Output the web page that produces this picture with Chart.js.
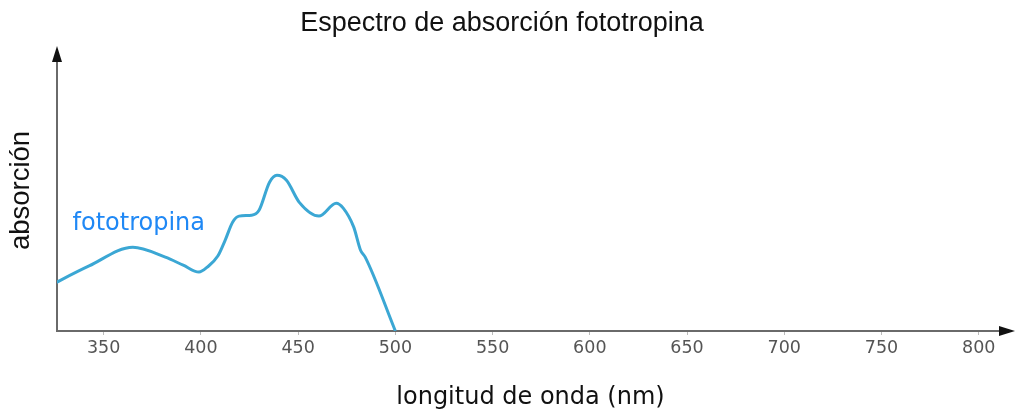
<!DOCTYPE html>
<html>
<head>
<meta charset="utf-8">
<script src="https://cdn.jsdelivr.net/npm/chart.js@4/dist/chart.umd.min.js"></script>
<style>
  html, body { margin: 0; padding: 0; background: #fff; }
  #wrap { width: 1016px; height: 414px; }
</style>
</head>
<body>
<div id="wrap"><canvas id="chart"></canvas></div>
<script>
// longitud de onda (nm) y absorción (unidades relativas)
const wavelengths = [320, 342.5, 365, 381.7, 390.9, 399, 403.3, 408.7, 412.5, 416.3, 419.6, 426.1, 429.9, 435.3, 439.1, 444, 450.6, 460.7, 469.6, 473.2, 478.6, 482.1, 484.5, 500];
const absorption  = [0.156, 0.236, 0.304, 0.268, 0.239, 0.214, 0.232, 0.272, 0.330, 0.395, 0.417, 0.420, 0.438, 0.540, 0.565, 0.547, 0.467, 0.417, 0.464, 0.446, 0.377, 0.293, 0.268, 0.0];
const xTicks = [350, 400, 450, 500, 550, 600, 650, 700, 750, 800];
const seriesLabel = "fototropina";

const decorations = {
  id: "decorations",
  afterDraw(chart) {
    const { ctx, chartArea, scales } = chart;
    ctx.save();
    ctx.fillStyle = "#111";
    // flecha eje y
    ctx.beginPath();
    ctx.moveTo(chartArea.left, chartArea.top - 4);
    ctx.lineTo(chartArea.left - 5, chartArea.top + 12);
    ctx.lineTo(chartArea.left + 5, chartArea.top + 12);
    ctx.closePath();
    ctx.fill();
    // flecha eje x
    ctx.beginPath();
    ctx.moveTo(chartArea.right + 11, chartArea.bottom);
    ctx.lineTo(chartArea.right - 5, chartArea.bottom - 5);
    ctx.lineTo(chartArea.right - 5, chartArea.bottom + 5);
    ctx.closePath();
    ctx.fill();
    // etiqueta de la serie
    ctx.fillStyle = "#1f88f5";
    ctx.font = "24px 'DejaVu Sans'";
    ctx.textBaseline = "alphabetic";
    ctx.fillText(seriesLabel, scales.x.getPixelForValue(334), scales.y.getPixelForValue(0.365));
    ctx.restore();
  }
};

new Chart(document.getElementById("chart"), {
  type: "line",
  data: {
    datasets: [{
      label: seriesLabel,
      data: wavelengths.map((w, i) => ({ x: w, y: absorption[i] })),
      borderColor: "#3ba7d4",
      borderWidth: 3,
      pointRadius: 0,
      cubicInterpolationMode: "monotone",
      fill: false
    }]
  },
  options: {
    responsive: true,
    maintainAspectRatio: false,
    animation: false,
    layout: { padding: { left: 0, right: 12, top: 0, bottom: 0 } },
    plugins: {
      legend: { display: false },
      tooltip: { enabled: false },
      title: {
        display: true,
        text: "Espectro de absorción fototropina",
        color: "#111",
        font: { family: "'Liberation Sans'", size: 27, weight: "normal" },
        padding: { top: 7, bottom: 10.6 }
      }
    },
    scales: {
      x: {
        type: "linear",
        min: 326,
        max: 813,
        afterBuildTicks: s => { s.ticks = xTicks.map(v => ({ value: v })); },
        afterFit: s => { s.height = 83; },
        border: { display: true, color: "#6a6a6a", width: 2 },
        grid: { drawOnChartArea: false, drawTicks: true, tickLength: 4, color: "#bbb" },
        ticks: { color: "#555", font: { family: "'DejaVu Sans'", size: 17.5 }, padding: 3, maxRotation: 0 },
        title: {
          display: true,
          text: "longitud de onda (nm)",
          color: "#111",
          font: { family: "'DejaVu Sans'", size: 24 },
          padding: { top: 4, bottom: 2 }
        }
      },
      y: {
        min: 0,
        max: 1.02,
        afterFit: s => { s.width = 57; },
        border: { display: true, color: "#6a6a6a", width: 2 },
        grid: { display: false },
        ticks: { display: false },
        title: {
          display: true,
          text: "absorción",
          color: "#111",
          font: { family: "'Liberation Sans'", size: 27.5 },
          padding: { top: 5, bottom: 4 }
        }
      }
    }
  },
  plugins: [decorations]
});
</script>
</body>
</html>
